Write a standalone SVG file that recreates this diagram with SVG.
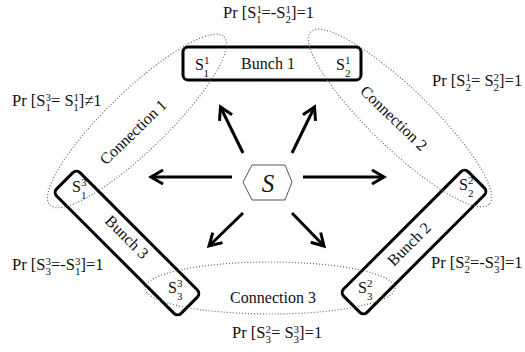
<svg xmlns="http://www.w3.org/2000/svg" width="525" height="352" viewBox="0 0 525 352">
<defs>
<style>
.t{font-family:"Liberation Serif","Times New Roman",serif;font-size:16px;fill:#111}
.lb{font-family:"Liberation Serif","Times New Roman",serif;font-size:16.5px;fill:#111}
.d{font-size:11px}
.bunch{fill:#fff;stroke:#000;stroke-width:3}
.conn{fill:none;stroke:#666;stroke-width:1.2;stroke-dasharray:1 2}
.arr{stroke:#000;stroke-width:3;fill:none;marker-end:url(#ah)}
</style>
<marker id="ah" viewBox="-16 -10 20 20" markerWidth="20" markerHeight="20" refX="0" refY="0" orient="auto" markerUnits="userSpaceOnUse">
<path d="M-12,-7 L0,0 L-12,7" fill="none" stroke="#000" stroke-width="3" stroke-linejoin="miter"/>
</marker>
</defs>
<rect width="525" height="352" fill="#fff"/>

<g id="bunch1">
<rect class="bunch" x="183" y="47" width="178" height="33" rx="5"/>
<text class="t" x="268" y="69" text-anchor="middle">Bunch 1</text>
<text class="t" x="195" y="70">S<tspan class="d" dy="-6.5">1</tspan><tspan class="d" dx="-5.5" dy="13.5">1</tspan></text>
<text class="t" x="336" y="70">S<tspan class="d" dy="-6.5">1</tspan><tspan class="d" dx="-5.5" dy="13.5">2</tspan></text>
</g>

<g id="bunch3">
<rect class="bunch" x="-88" y="-16.5" width="176" height="33" rx="5" transform="translate(127,243) rotate(45)"/>
<text class="t" text-anchor="middle" x="0" y="5.5" transform="translate(127,237) rotate(45)">Bunch 3</text>
<text class="t" x="72" y="192">S<tspan class="d" dy="-6.5">3</tspan><tspan class="d" dx="-5.5" dy="13.5">1</tspan></text>
<text class="t" x="168" y="293">S<tspan class="d" dy="-6.5">3</tspan><tspan class="d" dx="-5.5" dy="13.5">3</tspan></text>
</g>

<g id="bunch2">
<rect class="bunch" x="-88" y="-16.5" width="176" height="33" rx="5" transform="translate(414,242) rotate(-45)"/>
<text class="t" text-anchor="middle" x="0" y="5.5" transform="translate(409,244) rotate(-45)">Bunch 2</text>
<text class="t" x="459" y="190">S<tspan class="d" dy="-6.5">2</tspan><tspan class="d" dx="-5.5" dy="13.5">2</tspan></text>
<text class="t" x="358" y="293">S<tspan class="d" dy="-6.5">2</tspan><tspan class="d" dx="-5.5" dy="13.5">3</tspan></text>
</g>

<g id="connection1">
<ellipse class="conn" cx="0" cy="0" rx="121" ry="30" transform="translate(137,121) rotate(-44)"/>
<text class="t" text-anchor="middle" x="0" y="5.5" transform="translate(133,132) rotate(-44)">Connection 1</text>
</g>
<g id="connection2">
<ellipse class="conn" cx="0" cy="0" rx="124" ry="30" transform="translate(400,118) rotate(44)"/>
<text class="t" text-anchor="middle" x="0" y="5.5" transform="translate(394,118) rotate(44)">Connection 2</text>
</g>
<g id="connection3">
<ellipse class="conn" cx="270" cy="288" rx="125" ry="26"/>
<text class="t" x="273" y="303" text-anchor="middle">Connection 3</text>
</g>

<g id="source">
<polygon points="243,182 252,165 285,165 292,182 285,200 252,200" fill="#fff" stroke="#555" stroke-width="1"/>
<text x="268" y="192" text-anchor="middle" font-family="Liberation Serif,serif" font-style="italic" font-size="25" fill="#111">S</text>
</g>

<g id="connectors">
<line class="arr" x1="232" y1="177" x2="151" y2="177"/>
<line class="arr" x1="303" y1="177" x2="384" y2="177"/>
<line class="arr" x1="243" y1="153" x2="220.5" y2="107"/>
<line class="arr" x1="292" y1="153" x2="314.5" y2="107"/>
<line class="arr" x1="243" y1="213" x2="209" y2="246"/>
<line class="arr" x1="292" y1="213" x2="324" y2="246"/>
</g>

<g id="labels">
<text class="lb" x="223" y="18">Pr [S<tspan class="d" dy="-5">1</tspan><tspan class="d" dx="-5.5" dy="10">1</tspan><tspan dy="-5">=-S</tspan><tspan class="d" dy="-5">1</tspan><tspan class="d" dx="-5.5" dy="10">2</tspan><tspan dy="-5">]=1</tspan></text>
<text class="lb" x="12" y="106">Pr [S<tspan class="d" dy="-5">3</tspan><tspan class="d" dx="-5.5" dy="10">1</tspan><tspan dy="-5">= S</tspan><tspan class="d" dy="-5">1</tspan><tspan class="d" dx="-5.5" dy="10">1</tspan><tspan dy="-5">]≠1</tspan></text>
<text class="lb" x="432" y="86">Pr [S<tspan class="d" dy="-5">1</tspan><tspan class="d" dx="-5.5" dy="10">2</tspan><tspan dy="-5">= S</tspan><tspan class="d" dy="-5">2</tspan><tspan class="d" dx="-5.5" dy="10">2</tspan><tspan dy="-5">]=1</tspan></text>
<text class="lb" x="12" y="270">Pr [S<tspan class="d" dy="-5">3</tspan><tspan class="d" dx="-5.5" dy="10">3</tspan><tspan dy="-5">=-S</tspan><tspan class="d" dy="-5">3</tspan><tspan class="d" dx="-5.5" dy="10">1</tspan><tspan dy="-5">]=1</tspan></text>
<text class="lb" x="431" y="268">Pr [S<tspan class="d" dy="-5">2</tspan><tspan class="d" dx="-5.5" dy="10">2</tspan><tspan dy="-5">=-S</tspan><tspan class="d" dy="-5">2</tspan><tspan class="d" dx="-5.5" dy="10">3</tspan><tspan dy="-5">]=1</tspan></text>
<text class="lb" x="232" y="338">Pr [S<tspan class="d" dy="-5">2</tspan><tspan class="d" dx="-5.5" dy="10">3</tspan><tspan dy="-5">= S</tspan><tspan class="d" dy="-5">3</tspan><tspan class="d" dx="-5.5" dy="10">3</tspan><tspan dy="-5">]=1</tspan></text>
</g>
</svg>
